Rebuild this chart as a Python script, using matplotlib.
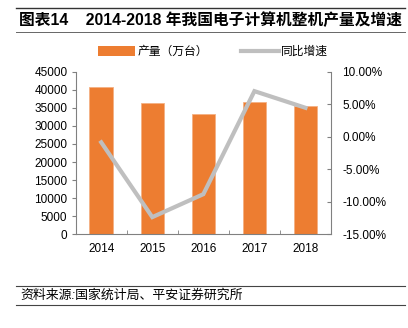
import matplotlib
matplotlib.use("Agg")
import matplotlib.pyplot as plt
from matplotlib.lines import Line2D
from matplotlib.patches import Patch
import numpy as np

plt.rcParams['font.family'] = ['Liberation Sans', 'Noto Sans CJK SC', 'DejaVu Sans']

years = ['2014', '2015', '2016', '2017', '2018']
output = [40900, 36300, 33400, 36700, 35400]
growth = [-0.86, -12.36, -8.83, 7.01, 4.45]
left_ticks = [0, 5000, 10000, 15000, 20000, 25000, 30000, 35000, 40000, 45000]
right_ticks = [-15, -10, -5, 0, 5, 10]

title = '图表14    2014-2018 年我国电子计算机整机产量及增速'
source = '资料来源:国家统计局、平安证券研究所'
bar_label = '产量（万台）'
line_label = '同比增速'

W, H = 408, 328
fig = plt.figure(figsize=(W / 100, H / 100), dpi=100)

def fx(px):
    return px / W

def fy(py):
    return 1 - py / H

ax = fig.add_axes([fx(75.7), fy(234.3), fx(331) - fx(75.7), fy(71.7) - fy(234.3)])
x = np.arange(len(years))
orange = '#ED7D31'
gray = '#BFBFBF'
axis_gray = '#808080'

ax.bar(x, output, width=0.46, color=orange, edgecolor='#F4B183', linewidth=0.6, zorder=2)
ax.set_xlim(-0.5, len(years) - 0.5)
ax.set_ylim(0, 45000)
ax.set_yticks(left_ticks)
ax.set_yticklabels([str(v) for v in left_ticks], fontsize=8.5)
ax.set_xticks(x)
ax.set_xticklabels(years, fontsize=8.5)
ax.tick_params(axis='x', length=0, pad=6)
ax.set_xticks(np.arange(len(years) + 1) - 0.5, minor=True)
ax.tick_params(axis='x', which='minor', length=3, direction='in', color=axis_gray)
ax.tick_params(axis='y', length=3, direction='out', color=axis_gray, pad=3)
for s in ['top', 'right']:
    ax.spines[s].set_visible(False)
for s in ['left', 'bottom']:
    ax.spines[s].set_color(axis_gray)
    ax.spines[s].set_linewidth(0.8)

ax2 = ax.twinx()
ax2.plot(x, growth, color=gray, linewidth=3, zorder=3, solid_joinstyle='miter')
ax2.set_ylim(-15, 10)
ax2.set_yticks(right_ticks)
ax2.set_yticklabels(['%.2f%%' % v for v in right_ticks], fontsize=8.5)
ax2.tick_params(axis='y', length=3, direction='in', color=axis_gray, pad=8)
for s in ['top', 'left', 'bottom']:
    ax2.spines[s].set_visible(False)
ax2.spines['right'].set_color(axis_gray)
ax2.spines['right'].set_linewidth(0.8)

# title and rules
fig.add_artist(Line2D([fx(16), fx(405)], [fy(7.5), fy(7.5)], color='#333333', linewidth=1.0))
fig.add_artist(Line2D([fx(16), fx(405)], [fy(32), fy(32)], color='#666666', linewidth=0.7))
fig.text(fx(19), fy(20), title, fontsize=11.3, fontweight='bold', va='center', ha='left')

# legend
handles = [Patch(facecolor=orange, edgecolor='none'),
           Line2D([0], [0], color=gray, linewidth=3)]
fig.legend(handles, [bar_label, line_label], loc='center', bbox_to_anchor=(fx(213), fy(52)),
           ncol=2, frameon=False, fontsize=8.5, handlelength=3.2, handleheight=0.9,
           handletextpad=0.2, columnspacing=2.8, borderaxespad=0)

# source
fig.add_artist(Line2D([fx(16), fx(405)], [fy(286), fy(286)], color='#444444', linewidth=0.8))
fig.add_artist(Line2D([fx(16), fx(405)], [fy(305), fy(305)], color='#444444', linewidth=0.8))
fig.text(fx(20), fy(295.5), source, fontsize=9.3, style='italic', va='center', ha='left')

fig.savefig('out.png', dpi=100)
